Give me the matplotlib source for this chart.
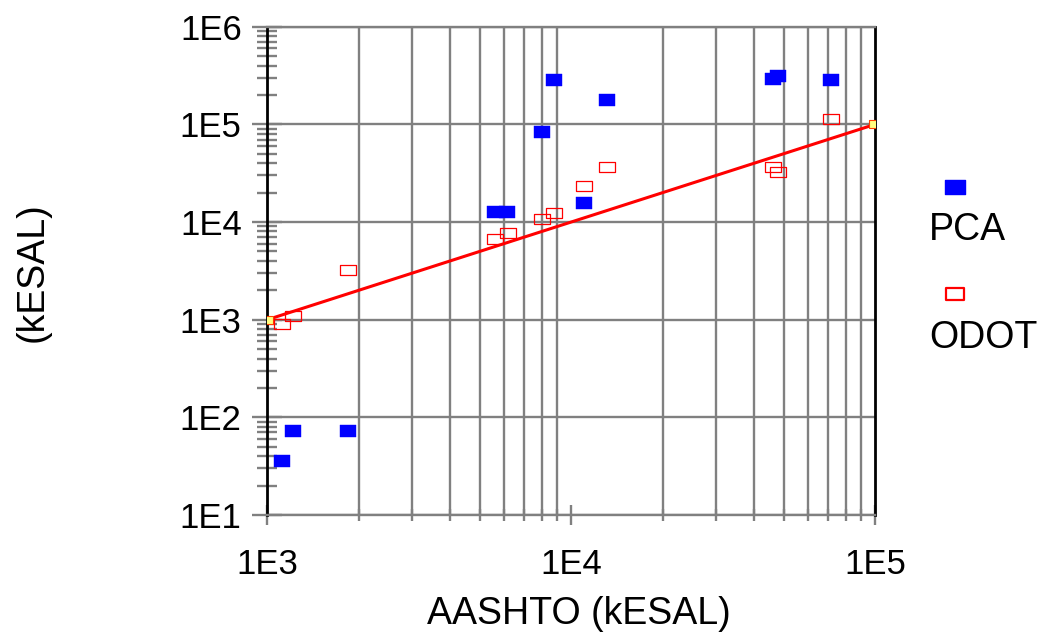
import math
import matplotlib
matplotlib.use('Agg')
import matplotlib.pyplot as plt
from matplotlib.path import Path
from matplotlib.lines import Line2D
from matplotlib.ticker import LogLocator, FixedLocator, FuncFormatter, NullFormatter

plt.rcParams['font.family'] = ['Liberation Sans', 'DejaVu Sans']

# PCA 预测 vs AASHTO
aashto_pca = [8780, 8020, 5610, 6160, 11000, 13150, 46200, 47900, 71800, 1213, 1845, 1120]
pca = [2.83e5, 8.3e4, 1.28e4, 1.28e4, 1.57e4, 1.78e5, 2.92e5, 3.15e5, 2.83e5, 72, 72, 36]

# ODOT 预测 vs AASHTO
aashto_odot = [1845, 5610, 6180, 8020, 8780, 11060, 13150, 46200, 47900, 71800, 1213, 1120]
odot = [3220, 6750, 7800, 1.07e4, 1.23e4, 2.32e4, 3.69e4, 3.66e4, 3.28e4, 1.13e5, 1100, 906]

# 等值线
line_x = [1e3, 1e5]
line_y = [1e3, 1e5]

x_ticks = [1e3, 1e4, 1e5]
y_ticks = [1e1, 1e2, 1e3, 1e4, 1e5, 1e6]

GREY = '#808080'

# 长方形标记
rect = Path([(-1, -0.65), (1, -0.65), (1, 0.65), (-1, 0.65), (-1, -0.65)],
            [Path.MOVETO, Path.LINETO, Path.LINETO, Path.LINETO, Path.CLOSEPOLY])

fig = plt.figure(figsize=(10.6, 6.41), dpi=100)
ax = fig.add_axes([0.2522, 0.1966, 0.5733, 0.7617])

ax.set_xscale('log')
ax.set_yscale('log')
ax.set_xlim(1e3, 1e5)
ax.set_ylim(1e1, 1e6)

ax.plot(line_x, line_y, color='#ff0000', lw=2.2, zorder=3,
        marker=rect, markersize=9, markerfacecolor='#ffff80',
        markeredgecolor='#ff4000', markeredgewidth=0.8)
ax.plot(aashto_pca, pca, ls='none', marker=rect, markersize=12.2,
        markerfacecolor='#0000ff', markeredgecolor='#0000ff', markeredgewidth=0.3, zorder=4)
ax.plot(aashto_odot, odot, ls='none', marker=rect, markersize=11.6,
        markerfacecolor='none', markeredgecolor='#ff0000', markeredgewidth=0.9, zorder=4)

# 刻度
ax.xaxis.set_major_locator(FixedLocator(x_ticks))
ax.yaxis.set_major_locator(FixedLocator(y_ticks))
ax.xaxis.set_minor_locator(LogLocator(base=10, subs=range(2, 10), numticks=20))
ax.yaxis.set_minor_locator(LogLocator(base=10, subs=range(2, 10), numticks=20))
fmt = FuncFormatter(lambda v, p: '1E%d' % round(math.log10(v)))
ax.xaxis.set_major_formatter(fmt)
ax.yaxis.set_major_formatter(fmt)
ax.xaxis.set_minor_formatter(NullFormatter())
ax.yaxis.set_minor_formatter(NullFormatter())

ax.tick_params(axis='both', which='major', labelsize=25, color=GREY, width=1.7,
               direction='inout')
ax.tick_params(axis='y', which='major', length=21, pad=8)
ax.tick_params(axis='y', which='minor', length=14.5, width=1.7, color=GREY, direction='inout')
ax.tick_params(axis='x', which='major', length=14, pad=17)
ax.tick_params(axis='x', which='minor', length=8, width=1.7, color=GREY, direction='inout')

ax.grid(which='minor', axis='x', color=GREY, lw=1.7)
ax.grid(which='major', axis='y', color=GREY, lw=1.7)
ax.set_axisbelow(True)

for s in ['top', 'bottom']:
    ax.spines[s].set_color(GREY)
    ax.spines[s].set_linewidth(1.7)
for s in ['left', 'right']:
    ax.spines[s].set_color('black')
    ax.spines[s].set_linewidth(2)

ax.set_xlabel('AASHTO (kESAL)', fontsize=27, va='center')
ax.xaxis.set_label_coords(0.513, -0.203)
ax.set_ylabel('(kESAL)', fontsize=27, va='center')
ax.yaxis.set_label_coords(-0.387, 0.498)

# 图例
fig.add_artist(Line2D([955 / 1060], [1 - 186.7 / 641], transform=fig.transFigure,
                      marker=rect, markersize=14.5, ls='none',
                      markerfacecolor='#0000ff', markeredgecolor='#0000ff'))
fig.text(929 / 1060, 1 - 230 / 641, 'PCA', fontsize=27, va='center', ha='left')
fig.add_artist(Line2D([955 / 1060], [1 - 293.7 / 641], transform=fig.transFigure,
                      marker=rect, markersize=13.5, ls='none', markeredgewidth=1.6,
                      markerfacecolor='none', markeredgecolor='#ff0000'))
fig.text(929 / 1060, 1 - 338 / 641, 'ODOT', fontsize=27, va='center', ha='left')

fig.savefig('out.png', dpi=100)
